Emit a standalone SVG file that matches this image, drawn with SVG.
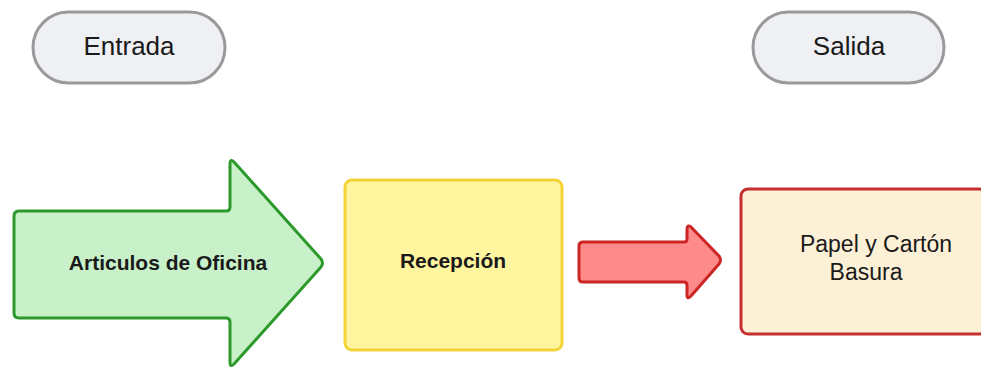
<svg xmlns="http://www.w3.org/2000/svg" width="981" height="370" viewBox="0 0 981 370">
<style>
.pill{fill:#eef0f3;stroke:#9a9a9a;stroke-width:3}
.t{font-family:"Liberation Sans",Arial,sans-serif;fill:#1a1a1a;text-anchor:middle}
.b{font-weight:bold}
</style>
<rect width="981" height="370" fill="#ffffff"/>
<g id="entrada">
<rect class="pill" x="33" y="12" width="192" height="71" rx="35.5"/>
<text class="t" x="129" y="55" font-size="26">Entrada</text>
</g>
<g id="salida">
<rect class="pill" x="753" y="12" width="191" height="71" rx="35.5"/>
<text class="t" x="849" y="55" font-size="26">Salida</text>
</g>
<g id="articulos">
<path d="M19,211 L226,211 Q230,211 230,207 L230,164 Q230,158 234,162 L321,259 Q324,263 321,267 L234,364 Q230,368 230,362 L230,322 Q230,318 226,318 L19,318 Q14,318 14,313 L14,216 Q14,211 19,211 Z" fill="#c9f1c9" stroke="#2b9a2b" stroke-width="3" stroke-linejoin="round"/>
<text class="t b" x="168" y="270" font-size="21">Articulos de Oficina</text>
</g>
<g id="recepcion">
<rect x="345" y="180" width="217" height="170" rx="7" fill="#fff59f" stroke="#f2d338" stroke-width="3"/>
<text class="t b" x="453" y="268" font-size="21">Recepción</text>
</g>
<g id="connectors">
<path d="M583,242 L684,242 Q687,242 687,239 L687,229 Q687,224 691,227 L719,256 Q722,260 719,264 L691,296 Q687,300 687,295 L687,285 Q687,282 684,282 L583,282 Q579,282 579,278 L579,246 Q579,242 583,242 Z" fill="#ff8a8a" stroke="#cc2525" stroke-width="3" stroke-linejoin="round"/>
</g>
<g id="papel">
<rect x="741" y="189" width="245" height="145" rx="7" fill="#fcf0d6" stroke="#c62f2f" stroke-width="3"/>
<text class="t" x="876" y="252" font-size="23">Papel y Cartón</text>
<text class="t" x="866" y="280" font-size="23">Basura</text>
</g>
</svg>
